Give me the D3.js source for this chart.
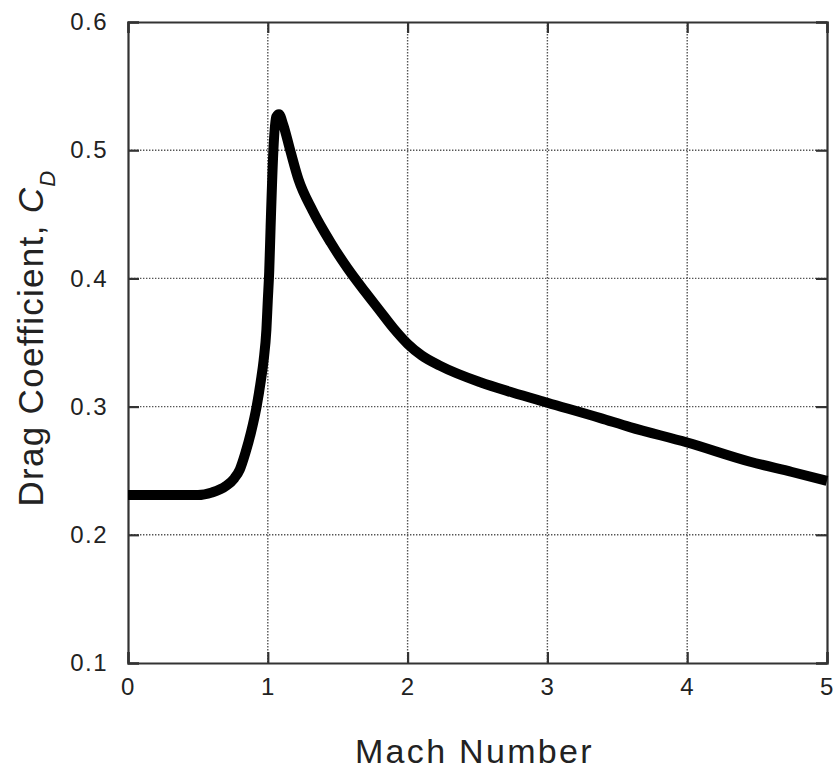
<!DOCTYPE html>
<html>
<head>
<meta charset="utf-8">
<script src="https://cdn.jsdelivr.net/npm/d3@7"></script>
<style>
  body { margin: 0; background: #fff; }
  text { font-family: "Liberation Sans", Arial, sans-serif; fill: #222; }
</style>
</head>
<body>
<script>
// Mach number vs drag coefficient
const mach = [0, 0.3, 0.5, 0.6, 0.7, 0.76, 0.8, 0.84, 0.88, 0.92, 0.95, 0.97, 0.99, 1.0, 1.01, 1.02, 1.04, 1.06, 1.08, 1.11, 1.16, 1.22, 1.32, 1.45, 1.57, 1.7, 1.8, 1.9, 2.0, 2.1, 2.23, 2.52, 2.75, 3.0, 3.38, 3.59, 4.0, 4.45, 4.75, 5.0]
const cd = [0.231, 0.231, 0.231, 0.233, 0.238, 0.244, 0.251, 0.264, 0.28, 0.3, 0.32, 0.336, 0.36, 0.383, 0.405, 0.44, 0.5, 0.526, 0.528, 0.52, 0.5, 0.477, 0.453, 0.428, 0.408, 0.389, 0.375, 0.361, 0.349, 0.34, 0.332, 0.319, 0.311, 0.303, 0.291, 0.284, 0.272, 0.257, 0.249, 0.242]
const xTicks = [0, 1, 2, 3, 4, 5]
const yTicks = [0.1, 0.2, 0.3, 0.4, 0.5, 0.6]

const W = 835, H = 774
const margin = {top: 22, right: 8, bottom: 111, left: 128}
const width = W - margin.left - margin.right
const height = H - margin.top - margin.bottom

const svg = d3.select("body").append("svg")
    .attr("width", W)
    .attr("height", H)

const g = svg.append("g")
    .attr("transform", `translate(${margin.left},${margin.top})`)

const x = d3.scaleLinear().domain([0, 5]).range([0, width])
const y = d3.scaleLinear().domain([0.1, 0.6]).range([height, 0])

// dotted grid
g.append("g").selectAll("line")
    .data(xTicks.slice(1, -1))
    .enter().append("line")
    .attr("x1", d => x(d)).attr("x2", d => x(d))
    .attr("y1", 0).attr("y2", height)
    .attr("stroke", "#555").attr("stroke-width", 1.4)
    .attr("stroke-dasharray", "1.4,1.6")
g.append("g").selectAll("line")
    .data(yTicks.slice(1, -1))
    .enter().append("line")
    .attr("x1", 0).attr("x2", width)
    .attr("y1", d => y(d)).attr("y2", d => y(d))
    .attr("stroke", "#555").attr("stroke-width", 1.4)
    .attr("stroke-dasharray", "1.4,1.6")

// axes with inward ticks on all sides
const tl = 11
g.append("g").attr("transform", `translate(0,${height})`)
    .call(d3.axisBottom(x).tickValues(xTicks).tickSize(-tl).tickPadding(tl + 4).tickFormat(d3.format("d")))
g.append("g")
    .call(d3.axisTop(x).tickValues(xTicks).tickSize(-tl).tickFormat(""))
g.append("g")
    .call(d3.axisLeft(y).tickValues(yTicks).tickSize(-tl).tickPadding(tl + 9).tickFormat(d3.format(".1f")))
g.append("g").attr("transform", `translate(${width},0)`)
    .call(d3.axisRight(y).tickValues(yTicks).tickSize(-tl).tickFormat(""))

g.selectAll(".domain").attr("stroke", "#333").attr("stroke-width", 2.2)
g.selectAll(".tick line").attr("stroke", "#333").attr("stroke-width", 2.2)
g.selectAll(".tick text").attr("font-size", 24).attr("fill", "#333")
    .attr("letter-spacing", 1.5)
    .attr("font-family", "'Liberation Sans', Arial, sans-serif")

// the curve
const pts = mach.map((m, i) => [m, cd[i]])
g.append("path")
    .datum(pts)
    .attr("fill", "none")
    .attr("stroke", "#000")
    .attr("stroke-width", 10)
    .attr("stroke-linejoin", "round")
    .attr("d", d3.line().x(d => x(d[0])).y(d => y(d[1])).curve(d3.curveMonotoneX))

// axis titles
svg.append("text")
    .attr("x", 355)
    .attr("y", 763)
    .attr("font-size", 34)
    .attr("letter-spacing", 2.3)
    .text("Mach Number")

const yt = svg.append("text")
    .attr("transform", "translate(43,338) rotate(-90)")
    .attr("text-anchor", "middle")
    .attr("font-size", 35)
    .attr("letter-spacing", 1.3)
yt.append("tspan").text("Drag Coefficient, ")
yt.append("tspan").attr("font-style", "italic").text("C")
yt.append("tspan").attr("font-style", "italic").attr("font-size", 22).attr("dy", 12).text("D")
</script>
</body>
</html>
